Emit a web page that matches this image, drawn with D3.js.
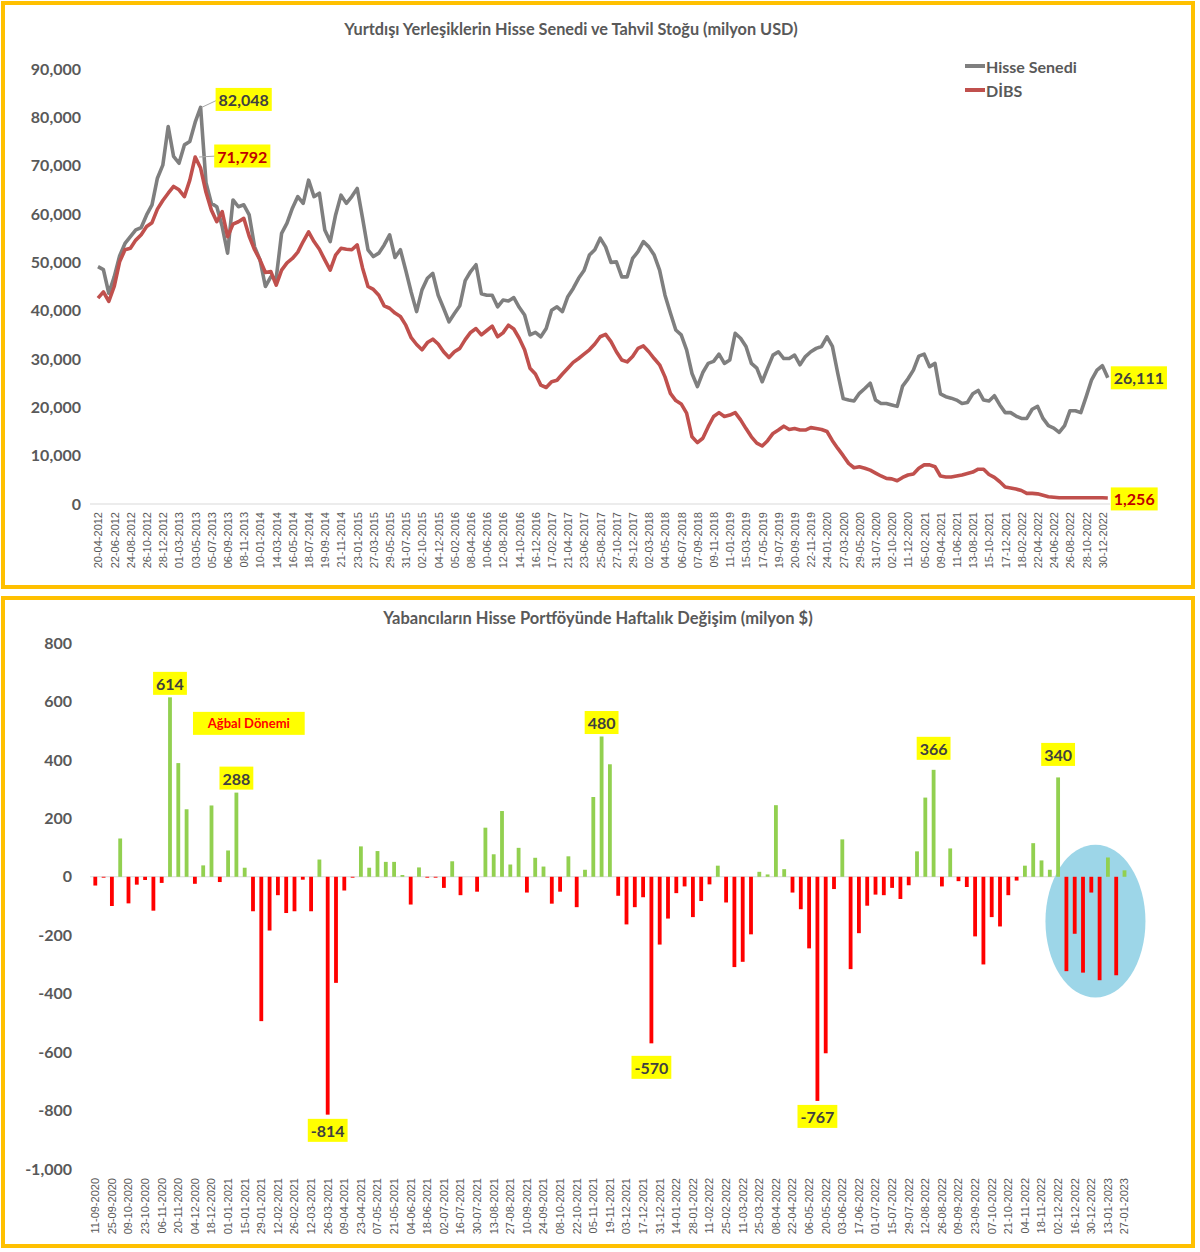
<!DOCTYPE html>
<html><head><meta charset="utf-8">
<script src="https://cdn.jsdelivr.net/npm/d3@7"></script>
<style>
body{margin:0;background:#fff;}
svg{display:block;font-family:Lato,'Open Sans',sans-serif;}
</style></head><body>
<script>
// ---------- DATA ----------
const topTickLabels = ["20-04-2012","22-06-2012","24-08-2012","26-10-2012","28-12-2012","01-03-2013","03-05-2013","05-07-2013","06-09-2013","08-11-2013","10-01-2014","14-03-2014","16-05-2014","18-07-2014","19-09-2014","21-11-2014","23-01-2015","27-03-2015","29-05-2015","31-07-2015","02-10-2015","04-12-2015","05-02-2016","08-04-2016","10-06-2016","12-08-2016","14-10-2016","16-12-2016","17-02-2017","21-04-2017","23-06-2017","25-08-2017","27-10-2017","29-12-2017","02-03-2018","04-05-2018","06-07-2018","07-09-2018","09-11-2018","11-01-2019","15-03-2019","17-05-2019","19-07-2019","20-09-2019","22-11-2019","24-01-2020","27-03-2020","29-05-2020","31-07-2020","02-10-2020","11-12-2020","05-02-2021","09-04-2021","11-06-2021","13-08-2021","15-10-2021","17-12-2021","18-02-2022","22-04-2022","24-06-2022","26-08-2022","28-10-2022","30-12-2022"];

// Hisse Senedi (milyon USD), read every 3 weeks
const hisseSenedi = [
49100,48500,43600,47000,51300,53900,55300,56700,57200,59800,
61900,67400,70100,78100,71900,70500,74300,75000,79000,82048,
66500,62200,61500,57400,51900,62900,61500,61900,59800,53200,
50500,45000,47000,46700,56000,58100,61200,63600,62200,67000,
63600,64300,56700,54300,59800,63900,62200,63600,65300,59100,
52600,51200,51900,53600,55700,51000,52600,48300,43800,39800,
44300,46700,47700,43200,40500,37700,39400,41000,46200,48100,
49500,43500,43200,43200,40800,42200,42000,42700,40700,39100,
35000,35500,34600,36300,40100,40800,39800,42900,44600,46700,
48300,51500,52600,55000,53200,50000,50100,47000,47000,50800,
52200,54300,53200,51500,48400,43200,39500,36000,35000,31900,
27000,24300,27200,29100,29500,31000,29100,29800,35300,34300,
32600,29100,28100,25300,28100,30800,31500,30100,30100,30800,
28800,30500,31500,32200,32600,34600,32600,27000,21800,21500,
21300,22900,23900,25000,21500,20800,20800,20500,20200,24400,
25900,27700,30600,31000,28400,29100,22800,22200,21900,21500,
20800,21000,22800,23500,21500,21300,22400,20500,18900,18900,
18200,17700,17700,19600,20200,17700,16200,15700,14800,16200,
19300,19300,18900,22200,25700,27700,28600,26111];

// DİBS (milyon USD), same dates
const dibs = [
42600,43900,41900,45000,50100,52600,52900,54600,55700,57400,
58200,61000,62800,64300,65700,65000,63600,67000,71792,69500,
64500,60800,58400,60500,55300,57900,58400,59100,55400,52600,
50500,47900,48100,45300,48400,49900,50800,52100,54300,56300,
54300,52700,50500,48400,51500,52900,52700,52600,53600,48800,
45000,44400,43200,41000,40500,39500,38800,37000,34400,33000,
31900,33400,34100,33100,31500,30300,31500,32200,34000,35500,
36300,35000,35900,36800,34600,35400,37000,36200,34300,31900,
28100,26900,24600,24100,25300,25600,26900,28100,29300,30100,
31000,31900,33100,34600,35100,33600,31500,29800,29400,30500,
32200,32700,31500,30100,28800,26300,22900,21400,20700,18800,
13900,12700,13600,16000,18100,18900,18100,18400,18900,17400,
15600,13900,12600,12000,13100,14600,15300,16100,15400,15600,
15300,15300,15800,15600,15400,15000,13100,11500,10000,8400,
7500,7700,7400,7000,6400,5800,5300,5200,4800,5500,
6000,6200,7400,8100,8100,7700,5800,5600,5600,5800,
6000,6300,6600,7200,7200,6100,5500,4600,3500,3300,
3100,2800,2200,2200,2100,1800,1500,1400,1300,1300,
1300,1300,1300,1300,1300,1300,1300,1256];

const bottomTickLabels = ["11-09-2020","25-09-2020","09-10-2020","23-10-2020","06-11-2020","20-11-2020","04-12-2020","18-12-2020","01-01-2021","15-01-2021","29-01-2021","12-02-2021","26-02-2021","12-03-2021","26-03-2021","09-04-2021","23-04-2021","07-05-2021","21-05-2021","04-06-2021","18-06-2021","02-07-2021","16-07-2021","30-07-2021","13-08-2021","27-08-2021","10-09-2021","24-09-2021","08-10-2021","22-10-2021","05-11-2021","19-11-2021","03-12-2021","17-12-2021","31-12-2021","14-01-2022","28-01-2022","11-02-2022","25-02-2022","11-03-2022","25-03-2022","08-04-2022","22-04-2022","06-05-2022","20-05-2022","03-06-2022","17-06-2022","01-07-2022","15-07-2022","29-07-2022","12-08-2022","26-08-2022","09-09-2022","23-09-2022","07-10-2022","21-10-2022","04-11-2022","18-11-2022","02-12-2022","16-12-2022","30-12-2022","13-01-2023","27-01-2023"];

// weekly change (milyon $), one value per week from 11-09-2020
const weeklyChange = [
-30,-3,-100,131,-91,-27,-11,-116,-21,614,
389,231,-24,39,244,-18,90,288,31,-118,
-494,-184,-63,-124,-118,-10,-118,59,-814,-363,
-47,-3,104,31,88,51,51,6,-95,32,
-3,-3,-38,53,-63,0,-51,168,77,225,
42,99,-54,65,35,-92,-51,70,-104,24,
273,480,385,-65,-163,-104,-70,-570,-232,-143,
-56,-33,-138,-83,-26,38,-88,-309,-291,-197,
17,8,245,26,-54,-111,-245,-767,-604,-42,
128,-316,-193,-99,-61,-63,-38,-76,-29,87,
271,366,-33,97,-15,-35,-204,-300,-138,-170,
-63,-13,38,115,56,24,340,-323,-195,-328,
-54,-354,66,-337,22];

const labeledWeeks = [9,17,28,61,67,87,101,116];
const labelOffsets = {9:-14,17:-14.5,28:15.7,61:-14,67:24,87:15.5,101:-21.5,116:-23};

// ---------- SETUP ----------
const fmt = d3.formatLocale({decimal:".",thousands:",",grouping:[3],currency:["$",""],minus:"-"}).format(",");
const svg = d3.select("body").append("svg").attr("width",1200).attr("height",1252);
const gold = "#FFC000", axisText = "#595959", axisLine = "#D9D9D9";

svg.append("rect").attr("x",3).attr("y",3).attr("width",1190).attr("height",584)
  .attr("fill","#fff").attr("stroke",gold).attr("stroke-width",4);
svg.append("rect").attr("x",3).attr("y",598).attr("width",1190).attr("height",648)
  .attr("fill","#fff").attr("stroke",gold).attr("stroke-width",4);

function tag(x, cy, txt, color, anchor) {
  const g = svg.append("g");
  const t = g.append("text").attr("y",cy).attr("dominant-baseline","central")
    .attr("font-size",16).attr("font-weight","bold").attr("fill",color).text(txt);
  const w = t.node().getComputedTextLength();
  const left = anchor === "middle" ? x - w/2 : x + 3;
  t.attr("x", left);
  g.insert("rect","text").attr("x",left-3).attr("y",cy-11.5).attr("width",w+6).attr("height",23).attr("fill","#FFFF00");
}

// ---------- TOP CHART ----------
const xTop = d3.scaleLinear().domain([0, hisseSenedi.length-1]).range([98, 1107.8]);
const yTop = d3.scaleLinear().domain([0, 90000]).range([504, 69]);

svg.append("text").attr("x",571).attr("y",35).attr("text-anchor","middle")
  .attr("font-size",16.3).attr("font-weight","bold").attr("fill",axisText)
  .text("Yurtdışı Yerleşiklerin Hisse Senedi ve Tahvil Stoğu (milyon USD)");

const yAxT = svg.append("g").attr("transform","translate(81,0)")
  .call(d3.axisLeft(yTop).tickValues(d3.range(0,90001,10000)).tickSize(0).tickPadding(0).tickFormat(fmt));
yAxT.select(".domain").remove();
yAxT.selectAll("text").attr("font-size",16).attr("font-weight","bold").attr("fill",axisText).attr("font-family","Lato,sans-serif");

svg.append("line").attr("x1",90).attr("x2",1110).attr("y1",yTop(0)).attr("y2",yTop(0)).attr("stroke",axisLine);

const xAxT = svg.append("g").attr("transform",`translate(0,${yTop(0)})`)
  .call(d3.axisBottom(xTop).tickValues(d3.range(0,hisseSenedi.length,3)).tickSize(0).tickFormat((d,i)=>topTickLabels[i]));
xAxT.select(".domain").remove();
xAxT.selectAll("text").attr("transform","rotate(-90)").attr("text-anchor","end")
  .attr("x",-8).attr("y",0).attr("dy","0.35em")
  .attr("font-size",11).attr("font-family","'Liberation Sans',Arial,sans-serif").attr("fill",axisText);

const line = d3.line().x((d,i)=>xTop(i)).y(d=>yTop(d));
svg.append("path").datum(hisseSenedi).attr("d",line).attr("fill","none")
  .attr("stroke","#7F7F7F").attr("stroke-width",3.6).attr("stroke-linejoin","round");
svg.append("path").datum(dibs).attr("d",line).attr("fill","none")
  .attr("stroke","#C0504D").attr("stroke-width",3.6).attr("stroke-linejoin","round");

// legend
[["Hisse Senedi","#7F7F7F",66],["DİBS","#C0504D",90]].forEach(([name,c,y])=>{
  svg.append("line").attr("x1",965).attr("x2",985).attr("y1",y).attr("y2",y).attr("stroke",c).attr("stroke-width",4);
  svg.append("text").attr("x",986).attr("y",y).attr("dominant-baseline","central")
    .attr("font-size",16).attr("font-weight","bold").attr("fill",axisText).text(name);
});

// peak labels
const gi = d3.maxIndex(hisseSenedi), ri = d3.maxIndex(dibs);
const gpx = xTop(gi), gpy = yTop(hisseSenedi[gi]);
svg.append("line").attr("x1",gpx+1).attr("y1",gpy).attr("x2",gpx+18).attr("y2",gpy-8).attr("stroke","#A6A6A6");
tag(gpx+15, gpy-8, fmt(hisseSenedi[gi]), "#404040", "start");
const rpx = xTop(ri), rpy = yTop(dibs[ri]);
svg.append("line").attr("x1",rpx+4).attr("y1",rpy).attr("x2",rpx+22).attr("y2",rpy-1).attr("stroke","#A6A6A6");
tag(rpx+19, rpy-1, fmt(dibs[ri]), "#C00000", "start");
// end labels
const li = hisseSenedi.length-1;
tag(xTop(li)+3, yTop(hisseSenedi[li]), fmt(hisseSenedi[li]), "#404040", "start");
tag(xTop(li)+3, yTop(dibs[li])+1, fmt(dibs[li]), "#C00000", "start");

// ---------- BOTTOM CHART ----------
const xB = d3.scaleBand().domain(d3.range(weeklyChange.length)).range([88.9,1130.9]).padding(0.54);
const yB = d3.scaleLinear().domain([-1000,800]).range([1169,643]);
const bw = xB.bandwidth();
const xc = i => xB(i) + bw/2;

svg.append("text").attr("x",598).attr("y",624).attr("text-anchor","middle")
  .attr("font-size",16.5).attr("font-weight","bold").attr("fill",axisText)
  .text("Yabancıların Hisse Portföyünde Haftalık Değişim (milyon $)");

const yAxB = svg.append("g").attr("transform","translate(72,0)")
  .call(d3.axisLeft(yB).tickValues(d3.range(-1000,801,200)).tickSize(0).tickPadding(0).tickFormat(fmt));
yAxB.select(".domain").remove();
yAxB.selectAll("text").attr("font-size",16).attr("font-weight","bold").attr("fill",axisText).attr("font-family","Lato,sans-serif");

const xAxB = svg.append("g").attr("transform",`translate(0,${yB(-1000)})`)
  .call(d3.axisBottom(xB).tickValues(d3.range(0,weeklyChange.length,2)).tickSize(0).tickFormat((d,i)=>bottomTickLabels[i]));
xAxB.select(".domain").remove();
xAxB.selectAll("text").attr("transform","rotate(-90)").attr("text-anchor","end")
  .attr("x",-9).attr("y",0).attr("dy","0.35em")
  .attr("font-size",11).attr("font-family","'Liberation Sans',Arial,sans-serif").attr("fill",axisText);

svg.append("line").attr("x1",90).attr("x2",1130).attr("y1",yB(0)).attr("y2",yB(0)).attr("stroke",axisLine);

// highlight ellipse
svg.append("ellipse").attr("cx",(xc(117)+xc(124))/2).attr("cy",yB(-152))
  .attr("rx",50).attr("ry",(yB(-413)-yB(110))/2).attr("fill","#9DD6E8");

svg.append("g").selectAll("rect").data(weeklyChange).join("rect")
  .attr("x",(d,i)=>xB(i)).attr("width",bw)
  .attr("y",d=>yB(Math.max(0,d))).attr("height",d=>Math.abs(yB(d)-yB(0)))
  .attr("fill",d=>d>=0?"#92D050":"#FF0000");

labeledWeeks.forEach(i=>{
  const v = weeklyChange[i];
  tag(xc(i), yB(v)+labelOffsets[i], fmt(v), "#404040", "middle");
});

// Ağbal Dönemi annotation
const ag = svg.append("g");
const ax0 = xB(12), ay = yB(525);
const at = ag.append("text").attr("x",(ax0+xB(25)+bw)/2).attr("y",ay).attr("text-anchor","middle")
  .attr("dominant-baseline","central").attr("font-size",13).attr("font-weight","bold").attr("fill","#FF0000").text("Ağbal Dönemi");
ag.insert("rect","text").attr("x",ax0).attr("y",ay-11.5).attr("width",xB(25)+bw-ax0).attr("height",23).attr("fill","#FFFF00");
</script>
</body></html>
